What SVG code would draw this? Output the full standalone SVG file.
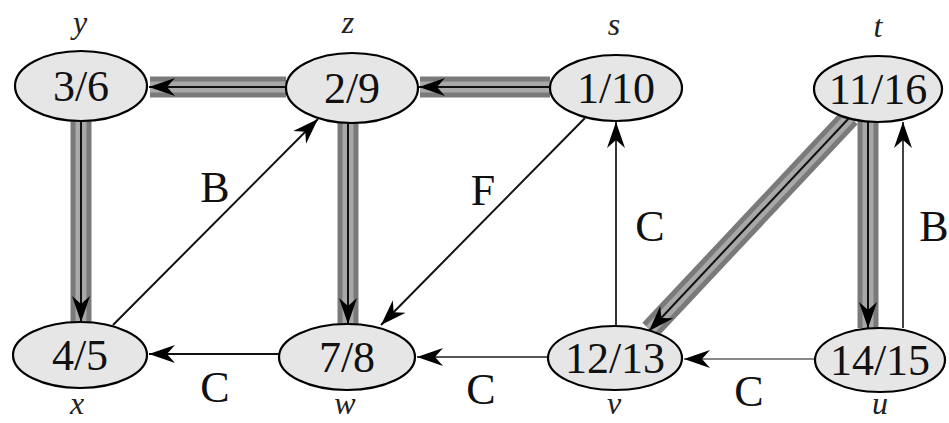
<svg xmlns="http://www.w3.org/2000/svg" width="949" height="423" viewBox="0 0 949 423">
<style>
.node ellipse{fill:#e6e6e6;stroke:#000;stroke-width:2.2}
.num{font-family:"Liberation Serif",serif;font-size:44px;text-anchor:middle;fill:#111}
.name{font-family:"Liberation Serif",serif;font-style:italic;font-size:32px;text-anchor:middle;fill:#222}
.lbl{font-family:"Liberation Serif",serif;font-size:44px;text-anchor:middle;fill:#111}
.band{stroke:#7a7a7a;stroke-width:21;fill:none}
.band2{stroke:#a8a8a8;stroke-width:11;fill:none}
.core{stroke:#111;stroke-width:2;fill:none}
.thin{stroke:#111;stroke-width:2;fill:none}
</style>
<defs>
<marker id="ah" markerUnits="userSpaceOnUse" markerWidth="28" markerHeight="22" refX="26" refY="11" orient="auto">
<path d="M0,2 L26,11 L0,20 L8,11 Z" fill="#000"/>
</marker>
</defs>
<g id="connectors">
<g>
<line class="band" x1="286" y1="87" x2="150" y2="87"/><line class="band2" x1="286" y1="87" x2="150" y2="87"/>
<line class="core" x1="286" y1="87" x2="149" y2="87" marker-end="url(#ah)"/>
</g>
<g>
<line class="band" x1="550" y1="87" x2="420" y2="87"/><line class="band2" x1="550" y1="87" x2="420" y2="87"/>
<line class="core" x1="550" y1="87" x2="419" y2="87" marker-end="url(#ah)"/>
</g>
<g>
<line class="band" x1="81" y1="121" x2="81" y2="322"/><line class="band2" x1="81" y1="121" x2="81" y2="322"/>
<line class="core" x1="81" y1="121" x2="81" y2="322" marker-end="url(#ah)"/>
</g>
<g>
<line class="band" x1="348" y1="123" x2="348" y2="324"/><line class="band2" x1="348" y1="123" x2="348" y2="324"/>
<line class="core" x1="348" y1="123" x2="348" y2="324" marker-end="url(#ah)"/>
</g>
<g>
<line class="band" x1="850" y1="117" x2="650" y2="330"/><line class="band2" x1="850" y1="117" x2="650" y2="330"/>
<line class="core" x1="850" y1="117" x2="649" y2="331" marker-end="url(#ah)"/>
</g>
<g>
<line class="band" x1="868" y1="121" x2="868" y2="328"/><line class="band2" x1="868" y1="121" x2="868" y2="328"/>
<line class="core" x1="868" y1="121" x2="868" y2="328" marker-end="url(#ah)"/>
</g>
<line class="thin" x1="113" y1="325" x2="318" y2="119" marker-end="url(#ah)"/>
<line class="thin" x1="585" y1="118" x2="381" y2="325" marker-end="url(#ah)"/>
<line class="thin" x1="616" y1="326" x2="616" y2="122" marker-end="url(#ah)" style="stroke:#333"/>
<line class="thin" x1="903" y1="328" x2="903" y2="122" marker-end="url(#ah)" style="stroke:#444"/>
<line class="thin" x1="279" y1="354" x2="149" y2="354" marker-end="url(#ah)"/>
<line class="thin" x1="548" y1="357" x2="417" y2="357" marker-end="url(#ah)" style="stroke:#555"/>
<line class="thin" x1="815" y1="359" x2="684" y2="359" marker-end="url(#ah)" style="stroke:#888"/>
</g>
<g id="node-y" class="node"><ellipse cx="81" cy="86" rx="66" ry="35"/><text class="num" x="81" y="101">3/6</text><text class="name" x="80" y="33">y</text></g>
<g id="node-z" class="node"><ellipse cx="352" cy="88" rx="66" ry="35"/><text class="num" x="352" y="103">2/9</text><text class="name" x="348" y="33">z</text></g>
<g id="node-s" class="node"><ellipse cx="616" cy="88" rx="66" ry="33"/><text class="num" x="616" y="103">1/10</text><text class="name" x="614" y="35">s</text></g>
<g id="node-t" class="node"><ellipse cx="878" cy="89" rx="64" ry="33"/><text class="num" x="878" y="104">11/16</text><text class="name" x="878" y="37">t</text></g>
<g id="node-x" class="node"><ellipse cx="80" cy="355" rx="67" ry="33"/><text class="num" x="80" y="370">4/5</text><text class="name" x="77" y="414">x</text></g>
<g id="node-w" class="node"><ellipse cx="347" cy="357" rx="68" ry="33"/><text class="num" x="347" y="372">7/8</text><text class="name" x="345" y="414">w</text></g>
<g id="node-v" class="node"><ellipse cx="615" cy="358" rx="67" ry="32"/><text class="num" x="615" y="373">12/13</text><text class="name" x="614" y="414">v</text></g>
<g id="node-u" class="node"><ellipse cx="880" cy="360" rx="65" ry="32"/><text class="num" x="880" y="375">14/15</text><text class="name" x="880" y="414">u</text></g>
<g id="edge-labels">
<text class="lbl" x="215" y="202">B</text>
<text class="lbl" x="483" y="205">F</text>
<text class="lbl" x="650" y="241">C</text>
<text class="lbl" x="934" y="241">B</text>
<text class="lbl" x="215" y="402">C</text>
<text class="lbl" x="481" y="404">C</text>
<text class="lbl" x="749" y="406">C</text>
</g>
</svg>
